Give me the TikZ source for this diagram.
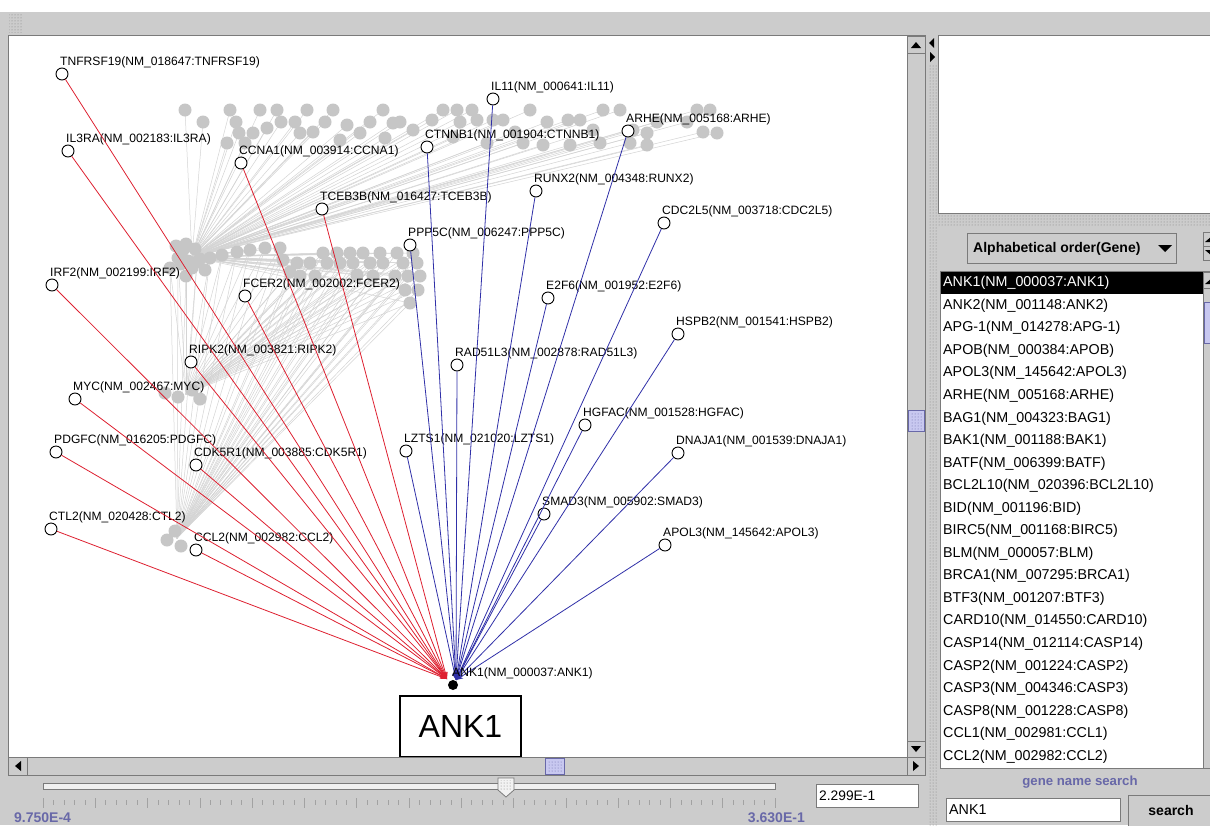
\documentclass[tikz,border=0pt]{standalone}
\usepackage{fontspec}
\setmainfont{Liberation Sans}
\usetikzlibrary{arrows.meta,patterns}

\definecolor{swinggray}{RGB}{204,204,204}
\definecolor{paneledge}{RGB}{122,122,122}
\definecolor{lilac}{RGB}{200,200,240}
\definecolor{lilactext}{RGB}{104,104,168}
\definecolor{edgered}{RGB}{222,32,48}
\definecolor{edgeblue}{RGB}{48,48,168}
\definecolor{clustergray}{RGB}{198,198,198}
\definecolor{clusterline}{RGB}{212,212,212}

\begin{document}
\begin{tikzpicture}[x=1pt, y=-1pt]
  \tikzstyle{gene}=[draw, circle, fill=white, minimum size=12pt, inner sep=0pt, line width=0.9pt]
  \tikzstyle{glabel}=[anchor=base west, inner sep=0pt, font=\fontsize{12.1}{14}\selectfont]
  \tikzstyle{cnode}=[circle, fill=clustergray, minimum size=13pt, inner sep=0pt]
  \tikzstyle{cline}=[draw=clusterline, line width=0.5pt]
  \tikzstyle{rededge}=[draw=edgered, line width=0.8pt, -{Stealth[length=7pt,width=5pt]}]
  \tikzstyle{blueedge}=[draw=edgeblue, line width=0.8pt, -{Stealth[length=7pt,width=5pt]}]
  \tikzstyle{panel}=[draw=paneledge, fill=white, line width=0.8pt]
  \tikzstyle{btn}=[draw=paneledge, fill=swinggray, line width=0.8pt]
  \tikzstyle{thumb}=[draw=lilactext, fill=lilac, line width=0.6pt]
  \tikzstyle{listitem}=[anchor=west, inner sep=0pt, font=\fontsize{14.3}{16}\selectfont]
  \tikzstyle{boldtext}=[inner sep=0pt, font=\bfseries\fontsize{14}{16}\selectfont]

  \useasboundingbox (0,0) rectangle (1210,825);

  % window
  \fill[white] (0,0) rectangle (1210,12);
  \fill[swinggray] (0,12) rectangle (1210,825);
  \fill[pattern=dots, pattern color=gray] (9,14) rectangle (23,32);

  % graph panel
  \draw[panel] (8,35) rectangle (907,757);

  % background cluster
  \def\topdots{185/110, 203/122, 230/110, 236/122, 239/133, 227/143, 253/133, 260/110, 277/110,
    281/122, 295/122, 300/133, 307/110, 313/132, 325/122, 333/110, 347/125, 360/133, 370/122,
    383/110, 393/123, 400/122, 413/130, 432/120, 443/110, 453/137, 457/110, 460/122, 472/110,
    477/120, 487/143, 493/120, 503/120, 515/132, 530/110, 543/145, 547/122, 568/120, 570/145,
    580/120, 593/130, 600/143, 603/110, 620/110, 630/143, 633/130, 647/133, 647/145, 657/122,
    687/122, 697/110, 703/132, 710/110, 717/133, 245/143, 267/128, 340/140, 385/138, 523/143}
  \def\middots{170/268, 178/258, 186/276, 197/262, 210/258, 222/255, 237/252, 250/250, 265/248,
    283/260, 297/263, 310/263, 323/253, 327/263, 337/253, 340/263, 350/253, 353/263, 363/253,
    370/263, 380/253, 383/263, 397/253, 403/263, 413/253, 417/263, 300/276, 315/276, 395/276,
    408/276, 420/276, 405/290, 418/290, 410/303, 280/248, 290/272, 357/275, 373/276}
  \coordinate (blob) at (192,257);
  \coordinate (lowhub) at (177,538);
  \coordinate (mychub) at (186,394);
  \foreach \gx/\gy [count=\i] in \topdots {
    \coordinate (top\i) at (\gx,\gy);
    \draw[cline] (blob) -- (top\i);
  }
  \foreach \gx/\gy [count=\i] in \middots {
    \coordinate (mid\i) at (\gx,\gy);
    \draw[cline] (lowhub) -- (mid\i);
    \draw[cline] (mychub) -- (mid\i);
    \draw[cline] (blob) -- (mid\i);
  }
  \foreach \gx/\gy [count=\i] in \topdots \node[cnode] (topn\i) at (top\i) {};
  \foreach \gx/\gy [count=\i] in \middots \node[cnode] (midn\i) at (mid\i) {};
  \foreach \gx/\gy [count=\i] in {183/250, 195/249, 188/261, 200/259, 181/264, 192/268,
      176/246, 205/270, 186/244, 165/393, 178/397, 192/390, 200/399, 167/540, 175/531, 181/546}
    \node[cnode] (extra\i) at (\gx,\gy) {};

  % genes linked to ANK1
  \foreach \id/\cx/\cy/\txt in {
      tnfrsf19/62/74/TNFRSF19(NM\_018647:TNFRSF19),
      il3ra/68/151/IL3RA(NM\_002183:IL3RA),
      ccna1/241/163/CCNA1(NM\_003914:CCNA1),
      tceb3b/322/209/TCEB3B(NM\_016427:TCEB3B),
      irf2/52/285/IRF2(NM\_002199:IRF2),
      fcer2/245/296/FCER2(NM\_002002:FCER2),
      ripk2/191/362/RIPK2(NM\_003821:RIPK2),
      myc/75/399/MYC(NM\_002467:MYC),
      pdgfc/56/452/PDGFC(NM\_016205:PDGFC),
      cdk5r1/196/465/CDK5R1(NM\_003885:CDK5R1),
      ctl2/51/529/CTL2(NM\_020428:CTL2),
      ccl2/196/550/CCL2(NM\_002982:CCL2),
      il11/493/99/IL11(NM\_000641:IL11),
      ctnnb1/427/147/CTNNB1(NM\_001904:CTNNB1),
      arhe/628/131/ARHE(NM\_005168:ARHE),
      runx2/536/191/RUNX2(NM\_004348:RUNX2),
      cdc2l5/664/223/CDC2L5(NM\_003718:CDC2L5),
      ppp5c/410/245/PPP5C(NM\_006247:PPP5C),
      e2f6/548/298/E2F6(NM\_001952:E2F6),
      hspb2/678/334/HSPB2(NM\_001541:HSPB2),
      rad51l3/457/365/RAD51L3(NM\_002878:RAD51L3),
      hgfac/585/425/HGFAC(NM\_001528:HGFAC),
      lzts1/406/451/LZTS1(NM\_021020:LZTS1),
      dnaja1/678/453/DNAJA1(NM\_001539:DNAJA1),
      smad3/544/514/SMAD3(NM\_005902:SMAD3),
      apol3/665/545/APOL3(NM\_145642:APOL3)} {
    \node[gene] (\id) at (\cx,\cy) {};
    \node[glabel] (\id-lab) at (\cx-2,\cy-9) {\txt};
  }

  \coordinate (redend) at (447,679);
  \coordinate (blueend) at (456,680);
  \foreach \id in {tnfrsf19,il3ra,ccna1,tceb3b,irf2,fcer2,ripk2,myc,pdgfc,cdk5r1,ctl2,ccl2}
    \draw[rededge] (\id) -- (redend);
  \foreach \id in {il11,ctnnb1,arhe,runx2,cdc2l5,ppp5c,e2f6,hspb2,rad51l3,hgfac,lzts1,dnaja1,smad3,apol3}
    \draw[blueedge] (\id) -- (blueend);

  \node[circle, fill=black, minimum size=10pt, inner sep=0pt] (ank1) at (453,685) {};
  \node[glabel] (ank1-lab) at (452,676) {ANK1(NM\_000037:ANK1)};
  \node[draw, line width=1.4pt, fill=white, minimum width=121pt, minimum height=61pt,
    inner sep=0pt, font=\fontsize{32}{34}\selectfont] (ankbox) at (460.5,726.5) {ANK1};

  % vertical scrollbar of the graph
  \draw[btn] (907,35) rectangle (925,757);
  \draw[btn] (907,36) rectangle (925,53);
  \fill (911,48) -- (921,48) -- (916,42) -- cycle;
  \draw[thumb] (908,410) rectangle (924,431);
  \fill[pattern=dots, pattern color=lilactext] (910,412) rectangle (922,429);
  \draw[btn] (907,741) rectangle (925,757);
  \fill (911,746) -- (921,746) -- (916,752) -- cycle;

  % horizontal scrollbar of the graph
  \draw[btn] (8,757) rectangle (925,775);
  \draw[btn] (8,757) rectangle (27,775);
  \fill (21,761) -- (21,771) -- (15,766) -- cycle;
  \draw[btn] (907,757) rectangle (925,775);
  \fill (913,761) -- (913,771) -- (919,766) -- cycle;
  \draw[thumb] (545,758) rectangle (564,774);
  \fill[pattern=dots, pattern color=lilactext] (547,760) rectangle (562,772);

  % threshold slider
  \draw[draw=paneledge, fill=gray!12, line width=0.8pt] (43,783) rectangle (775,789);
  \foreach \k in {0,...,70}
    \draw[paneledge!70, line width=0.6pt] ({43+\k*10.457},800) -- ++(0,5);
  \foreach \k in {0,5,...,70}
    \draw[paneledge!70, line width=0.6pt] ({43+\k*10.457},798) -- ++(0,10);
  \draw[draw=paneledge, fill=gray!10, line width=0.8pt]
    (498,778) -- (514,778) -- (514,790) -- (506,797) -- (498,790) -- cycle;
  \fill[pattern=dots, pattern color=gray] (500,780) rectangle (512,789);
  \node[boldtext, text=lilactext, anchor=west] (minval) at (14,818) {9.750E-4};
  \node[boldtext, text=lilactext, anchor=east] (maxval) at (805,818) {3.630E-1};
  \draw[panel] (816,784) rectangle (918,807);
  \node[listitem, font=\fontsize{13.8}{16}\selectfont] (cutval) at (819,795.5) {2.299E-1};

  % splitter
  \fill[pattern=dots, pattern color=gray] (929,64) rectangle (937,825);
  \fill (934,38) -- (934,48) -- (929,43) -- cycle;
  \fill (930,52) -- (930,62) -- (935,57) -- cycle;

  % right side
  \draw[panel] (938,35) rectangle (1211,213);
  \fill[pattern=dots, pattern color=gray] (938,215) rectangle (1210,226);
  \draw[btn] (967,233) rectangle (1176,263);
  \node[boldtext, anchor=west] (order) at (973,248.5) {Alphabetical order(Gene)};
  \fill (1158,245) -- (1172,245) -- (1165,252) -- cycle;
  \draw[btn] (1203,232) rectangle (1212,246);
  \draw[btn] (1203,246) rectangle (1212,260);
  \fill (1205,242) -- (1212,242) -- (1212,236) -- cycle;
  \fill (1205,250) -- (1212,250) -- (1212,256) -- cycle;

  \draw[panel] (940,271) rectangle (1203,768);
  \draw[btn] (1203,271) rectangle (1212,768);
  \draw[btn] (1203,272) rectangle (1212,288);
  \fill (1205,284) -- (1212,284) -- (1212,278) -- cycle;
  \draw[thumb] (1204,302) rectangle (1212,343);
  \fill[black] (941,272) rectangle (1203,294);
  \node[listitem, text=white] (row0) at (943,283) {ANK1(NM\_000037:ANK1)};
  \foreach \txt [count=\i] in {ANK2(NM\_001148:ANK2), APG-1(NM\_014278:APG-1),
      APOB(NM\_000384:APOB), APOL3(NM\_145642:APOL3), ARHE(NM\_005168:ARHE),
      BAG1(NM\_004323:BAG1), BAK1(NM\_001188:BAK1), BATF(NM\_006399:BATF),
      BCL2L10(NM\_020396:BCL2L10), BID(NM\_001196:BID), BIRC5(NM\_001168:BIRC5),
      BLM(NM\_000057:BLM), BRCA1(NM\_007295:BRCA1), BTF3(NM\_001207:BTF3),
      CARD10(NM\_014550:CARD10), CASP14(NM\_012114:CASP14), CASP2(NM\_001224:CASP2),
      CASP3(NM\_004346:CASP3), CASP8(NM\_001228:CASP8), CCL1(NM\_002981:CCL1),
      CCL2(NM\_002982:CCL2)}
    \node[listitem] (row\i) at (943,{283+22.55*\i}) {\txt};

  % search
  \node[boldtext, text=lilactext, font=\bfseries\fontsize{13.2}{15}\selectfont] (searchlab) at (1080,782) {gene name search};
  \draw[panel] (946,798) rectangle (1120,821);
  \node[listitem] (query) at (949,810) {ANK1};
  \draw[btn] (1128,795) rectangle (1213,827);
  \node[boldtext] (searchbtn) at (1171,810) {search};
\end{tikzpicture}
\end{document}
